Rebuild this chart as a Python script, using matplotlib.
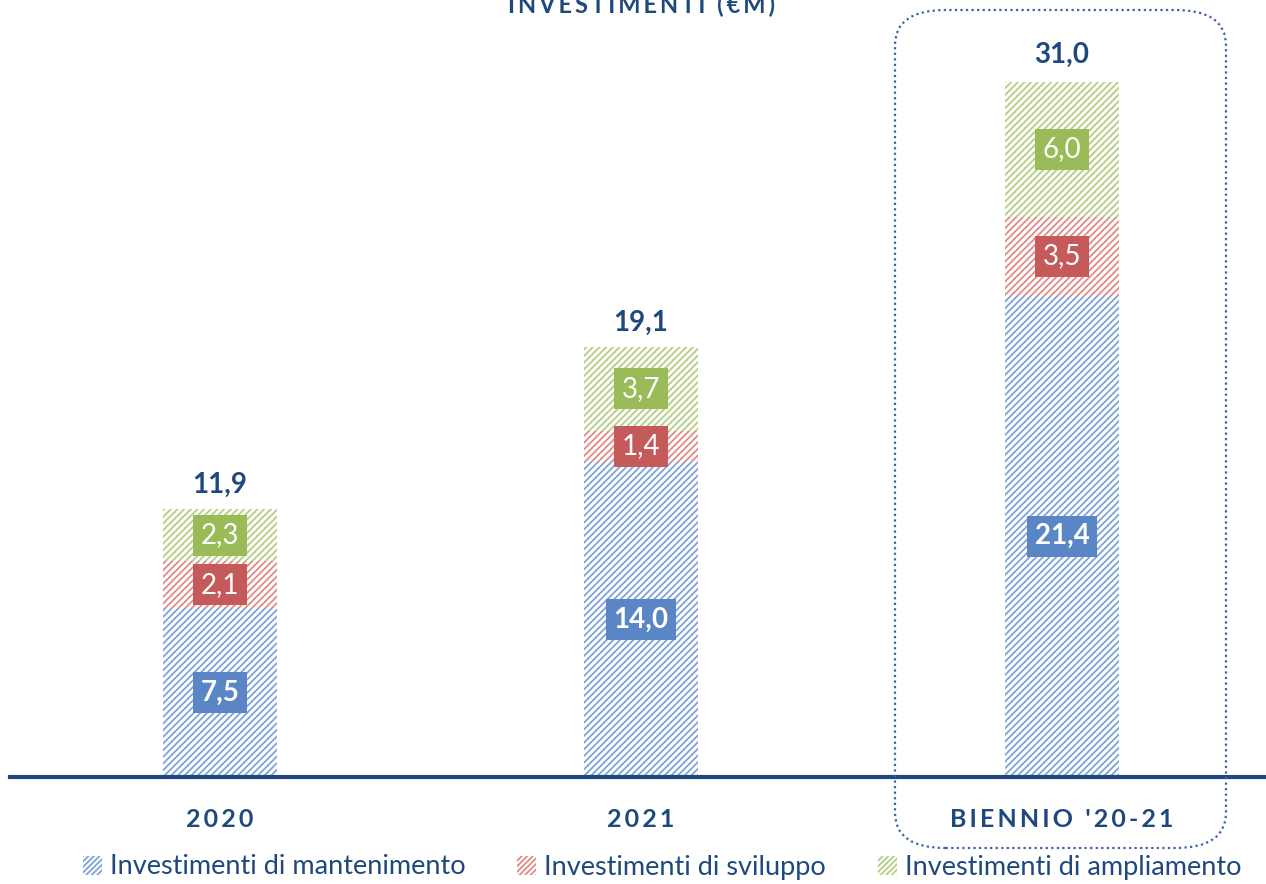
import numpy as np
from matplotlib import pyplot as plt
from matplotlib.patches import FancyBboxPatch, Patch

# data
categorie = ['2020', '2021', "BIENNIO '20-21"]
mantenimento = [7.5, 14.0, 21.4]
sviluppo = [2.1, 1.4, 3.5]
ampliamento = [2.3, 3.7, 6.0]
totali = [11.9, 19.1, 31.0]
serie = ['Investimenti di mantenimento', 'Investimenti di sviluppo', 'Investimenti di ampliamento']

BLU_SCURO = '#1F497D'
tratteggio = ['#7FA3D8', '#E08A88', '#B3CE82']
box = ['#5B86C6', '#C55A5A', '#9BBB59']
SP = '\u2009'

plt.rcParams['font.family'] = ['Lato', 'DejaVu Sans']
plt.rcParams['hatch.linewidth'] = 1.3

W, H = 1266, 884
fig = plt.figure(figsize=(W / 100, H / 100), dpi=100)
ax = fig.add_axes([10 / W, 107 / H, 1256 / W, 777 / H])

x = np.arange(len(categorie))
larg = 0.273
fondo = np.zeros(len(categorie))
for i, vals in enumerate([mantenimento, sviluppo, ampliamento]):
    vals = np.array(vals)
    ax.bar(x, vals, larg, bottom=fondo, color='white', edgecolor=tratteggio[i],
           linewidth=0, hatch='/////')
    for xi, b, v in zip(x, fondo, vals):
        ax.text(xi, b + v / 2, '{:.1f}'.format(v).replace('.', ','), ha='center', va='center',
                color='white', fontsize=20, fontweight='bold' if i == 0 else 'normal',
                bbox=dict(boxstyle='square,pad=0.27', fc=box[i], ec='none'))
    fondo = fondo + vals

for xi, t in zip(x, totali):
    ax.text(xi, t + 1.1, '{:.1f}'.format(t).replace('.', ','), ha='center', va='center',
            color=BLU_SCURO, fontsize=20, fontweight='bold')

ax.set_xlim(-210 / 421, 1046 / 421)
ax.set_ylim(0, 777 / 22.5)
for s in ['top', 'right', 'left']:
    ax.spines[s].set_visible(False)
ax.spines['bottom'].set_color(BLU_SCURO)
ax.spines['bottom'].set_linewidth(3)
ax.set_yticks([])
ax.set_xticks(x)
ax.set_xticklabels([SP.join(c) for c in categorie], fontsize=18, fontweight='bold', color=BLU_SCURO)
ax.tick_params(axis='x', length=0, pad=22)

# titolo tagliato in alto come nell'originale
fig.text(0.507, 1 - 13 / H, SP.join('INVESTIMENTI (€M)'), ha='center', va='baseline',
         fontsize=17, fontweight='bold', color=BLU_SCURO)

# riquadro tratteggiato attorno al biennio
riq = FancyBboxPatch((895 / W, 36 / H), 331 / W, 838 / H,
                     boxstyle='round,pad=0,rounding_size=0.04', transform=fig.transFigure,
                     fill=False, ec='#3A62A8', lw=1.6, ls=(0, (1, 1.5)))
fig.patches.append(riq)

maniglie = [Patch(facecolor='white', edgecolor=c, linewidth=0, hatch='//////') for c in tratteggio]
fig.legend(maniglie, serie, loc='center', bbox_to_anchor=(0.523, 1 - 867 / H), ncol=3,
           frameon=False, fontsize=19.5, handlelength=0.7, handleheight=0.7,
           handletextpad=0.3, columnspacing=1.9, labelcolor=BLU_SCURO)

fig.savefig('out.png', dpi=100)
